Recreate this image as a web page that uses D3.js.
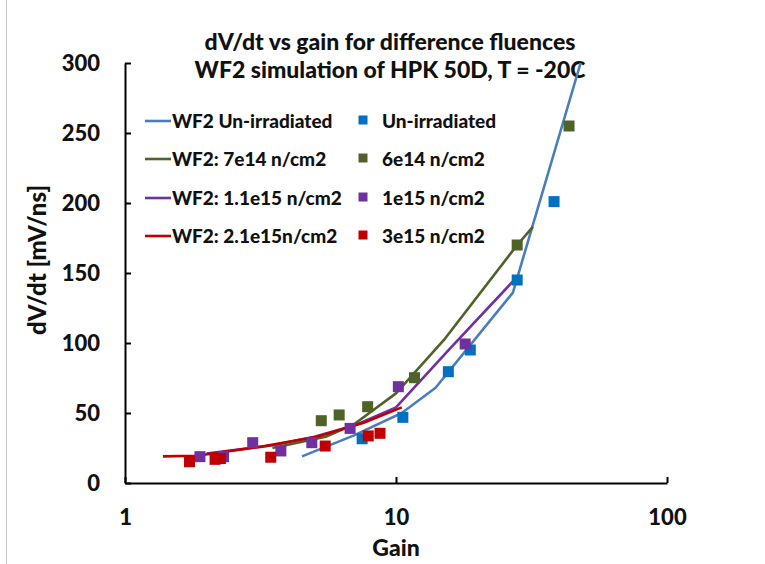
<!DOCTYPE html>
<html>
<head>
<meta charset="utf-8">
<script src="https://cdn.jsdelivr.net/npm/d3@7"></script>
<style>
  body { margin: 0; background: #fff; }
  svg text { font-family: Lato, "Open Sans", sans-serif; font-weight: 900; fill: #111; }
</style>
</head>
<body>
<svg id="chart" width="765" height="564"></svg>
<script>
// simulation curves (gain, dV/dt)
const simUnirrGain = [4.5, 7, 10.5, 14, 27, 48]
const simUnirrVal  = [19, 34, 50, 68, 136, 300]
const sim7e14Gain = [3.5, 5.5, 7, 10, 15, 28, 32]
const sim7e14Val  = [25, 33, 42, 64, 102, 170, 183]
const sim11e15Gain = [2, 3.5, 5, 7, 10, 16, 27]
const sim11e15Val  = [21, 27, 33, 41, 54, 97, 144]
const sim21e15Gain = [1.38, 1.84, 3.2, 5.1, 7.6, 10.5]
const sim21e15Val  = [19, 19.5, 26, 33, 43, 54]

// measurements
const measUnirrGain = [7.5, 10.6, 15.6, 18.8, 28, 38.3]
const measUnirrVal  = [31.6, 46.9, 79.5, 95, 145, 201]
const meas6e14Gain = [5.3, 6.17, 7.86, 11.7, 28, 43.5]
const meas6e14Val  = [44.5, 48.6, 54.5, 75.2, 170, 255]
const meas1e15Gain = [1.89, 2.31, 2.96, 3.76, 4.89, 6.77, 10.2, 18]
const meas1e15Val  = [18.8, 18.8, 28.8, 22.9, 28.8, 39, 68.8, 99.3]
const meas3e15Gain = [1.73, 2.15, 2.25, 3.45, 5.48, 7.9, 8.73]
const meas3e15Val  = [15.2, 16.9, 17.5, 18.4, 26.4, 33.6, 35.5]

const xTicks = [1, 10, 100]
const yTicks = [0, 50, 100, 150, 200, 250, 300]

const titleLines = ["dV/dt vs gain for difference fluences", "WF2 simulation of HPK 50D, T = -20C"]

const simSeries = [
    { name: "WF2 Un-irradiated", gain: simUnirrGain, val: simUnirrVal, color: "#4A7EBB" },
    { name: "WF2: 7e14 n/cm2", gain: sim7e14Gain, val: sim7e14Val, color: "#4F6228" },
    { name: "WF2: 1.1e15 n/cm2", gain: sim11e15Gain, val: sim11e15Val, color: "#7030A0" },
    { name: "WF2: 2.1e15n/cm2", gain: sim21e15Gain, val: sim21e15Val, color: "#C00000" },
]
const measSeries = [
    { name: "Un-irradiated", gain: measUnirrGain, val: measUnirrVal, color: "#0070C0" },
    { name: "6e14 n/cm2", gain: meas6e14Gain, val: meas6e14Val, color: "#4F6228" },
    { name: "1e15 n/cm2", gain: meas1e15Gain, val: meas1e15Val, color: "#7030A0" },
    { name: "3e15 n/cm2", gain: meas3e15Gain, val: meas3e15Val, color: "#C00000" },
]

const svg = d3.select("#chart")

// thin frame line on the left like the slide
svg.append("line")
    .attr("x1", 6.5).attr("x2", 6.5).attr("y1", 0).attr("y2", 564)
    .attr("stroke", "#c8c8c8").attr("stroke-width", 1)

const x = d3.scaleLog().domain([1, 100]).range([125, 667])
const y = d3.scaleLinear().domain([0, 300]).range([483, 63])

// axes, ticks pointing inward
const xAxis = svg.append("g")
    .attr("transform", `translate(0,${y(0)})`)
    .call(d3.axisBottom(x).tickValues(xTicks).tickFormat(d3.format("d"))
        .tickSizeInner(-6).tickSizeOuter(0).tickPadding(26))
const yAxis = svg.append("g")
    .attr("transform", `translate(${x(1)},0)`)
    .call(d3.axisLeft(y).tickValues(yTicks)
        .tickSizeInner(-6).tickSizeOuter(0).tickPadding(25))

for (const ax of [xAxis, yAxis]) {
    ax.select(".domain").attr("stroke", "#000").attr("stroke-width", 2)
    ax.selectAll(".tick line").attr("stroke", "#000").attr("stroke-width", 2)
    ax.selectAll(".tick text").attr("font-size", 22).attr("fill", "#111")
        .attr("font-family", "Lato, sans-serif").attr("font-weight", 900)
}

// title
svg.append("g").selectAll("text")
    .data(titleLines)
    .join("text")
    .attr("x", 390)
    .attr("y", (d, i) => 50 + i * 28)
    .attr("text-anchor", "middle")
    .attr("font-size", 23)
    .text(d => d)

// axis titles
svg.append("text")
    .attr("x", 396).attr("y", 556)
    .attr("text-anchor", "middle")
    .attr("font-size", 23)
    .text("Gain")
svg.append("text")
    .attr("transform", "translate(46,260) rotate(-90)")
    .attr("text-anchor", "middle")
    .attr("font-size", 24)
    .text("dV/dt [mV/ns]")

// lines
const line = d3.line().x(d => x(d[0])).y(d => y(d[1]))
const plot = svg.append("g")
plot.selectAll("path")
    .data(simSeries)
    .join("path")
    .attr("d", s => line(d3.zip(s.gain, s.val)))
    .attr("fill", "none")
    .attr("stroke", s => s.color)
    .attr("stroke-width", 2.6)
    .attr("stroke-linejoin", "round")

// markers
const ms = 11
for (const s of measSeries) {
    plot.append("g").selectAll("rect")
        .data(d3.zip(s.gain, s.val))
        .join("rect")
        .attr("x", d => x(d[0]) - ms / 2)
        .attr("y", d => y(d[1]) - ms / 2)
        .attr("width", ms).attr("height", ms)
        .attr("fill", s.color)
}

// legend
const rowY = [121, 159, 198, 236]
const legend = svg.append("g")
simSeries.forEach((s, i) => {
    legend.append("line")
        .attr("x1", 145).attr("x2", 171)
        .attr("y1", rowY[i]).attr("y2", rowY[i])
        .attr("stroke", s.color).attr("stroke-width", 2.6)
    legend.append("text")
        .attr("x", 172).attr("y", rowY[i]).attr("dy", "0.35em")
        .attr("font-size", 19)
        .text(s.name)
})
measSeries.forEach((s, i) => {
    legend.append("rect")
        .attr("x", 363 - 4.5).attr("y", rowY[i] - 5.5)
        .attr("width", 9).attr("height", 9)
        .attr("fill", s.color)
    legend.append("text")
        .attr("x", 382).attr("y", rowY[i]).attr("dy", "0.35em")
        .attr("font-size", 19)
        .text(s.name)
})
</script>
</body>
</html>
